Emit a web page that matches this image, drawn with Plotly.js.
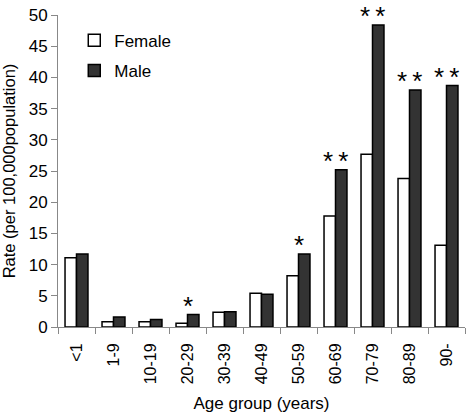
<!DOCTYPE html>
<html>
<head>
<meta charset="utf-8">
<script src="https://cdn.plot.ly/plotly-3.0.1.min.js"></script>
<style>html,body{margin:0;padding:0;background:#fff;}#chart{width:466px;height:413px;}</style>
</head>
<body>
<div id="chart"></div>
<script>
var categories = ["<1","1-9","10-19","20-29","30-39","40-49","50-59","60-69","70-79","80-89","90-"];
var female = [11.1, 0.85, 0.85, 0.6, 2.35, 5.4, 8.2, 17.8, 27.7, 23.8, 13.1];
var male = [11.7, 1.6, 1.2, 2.0, 2.45, 5.25, 11.7, 25.2, 48.4, 38.0, 38.7];
var significance = ["", "", "", "*", "", "", "*", "*\u2009*", "*\u2009*", "*\u2009*", "*\u2009*"];

var font = "Liberation Sans, Arial, sans-serif";
var annotations = [];
categories.forEach(function(c, i){
  if (significance[i]) {
    annotations.push({
      x: c, y: Math.max(female[i], male[i]), xref: "x", yref: "y",
      text: significance[i], showarrow: false, yanchor: "bottom",
      yshift: -7, borderpad: 0, font: {family: font, size: 26, color: "#000"}
    });
  }
});

var traces = [
  {type: "bar", name: "Female", x: categories, y: female, legendgroup: "f",
   marker: {color: "#ffffff", line: {color: "#000", width: 1.5}}},
  {type: "bar", name: "Male", x: categories, y: male, legendgroup: "m",
   marker: {color: "#333333", line: {color: "#000", width: 1.5}}}
];

var layout = {
  width: 466, height: 413,
  margin: {l: 58, r: 1, t: 15, b: 86},
  paper_bgcolor: "#fff", plot_bgcolor: "#fff",
  font: {family: font, size: 17, color: "#000"},
  barmode: "group", bargap: 0.38, bargroupgap: 0,
  showlegend: true,
  legend: {x: 0.04, y: 0.975, xanchor: "left", yanchor: "top",
           bgcolor: "rgba(0,0,0,0)", font: {family: font, size: 17},
           traceorder: "grouped", tracegroupgap: 5, itemwidth: 30},
  xaxis: {
    type: "category", tickangle: -90, tickson: "boundaries",
    ticks: "outside", ticklen: 6, tickcolor: "#888", tickwidth: 1,
    showline: true, linecolor: "#888", linewidth: 1,
    showgrid: false, zeroline: false, ticklabelstandoff: 9,
    tickfont: {family: font, size: 16},
    title: {text: "Age group (years)", font: {family: font, size: 17}, standoff: 16}
  },
  yaxis: {
    range: [0, 50], dtick: 5, ticks: "outside", ticklen: 6,
    tickcolor: "#888", tickwidth: 1,
    showline: true, linecolor: "#888", linewidth: 1,
    showgrid: false, zeroline: false,
    tickfont: {family: font, size: 17},
    title: {text: "Rate (per 100,000population)", font: {family: font, size: 16.5}, standoff: 8}
  },
  annotations: annotations
};

Plotly.newPlot("chart", traces, layout, {staticPlot: true, displayModeBar: false});
</script>
</body>
</html>
